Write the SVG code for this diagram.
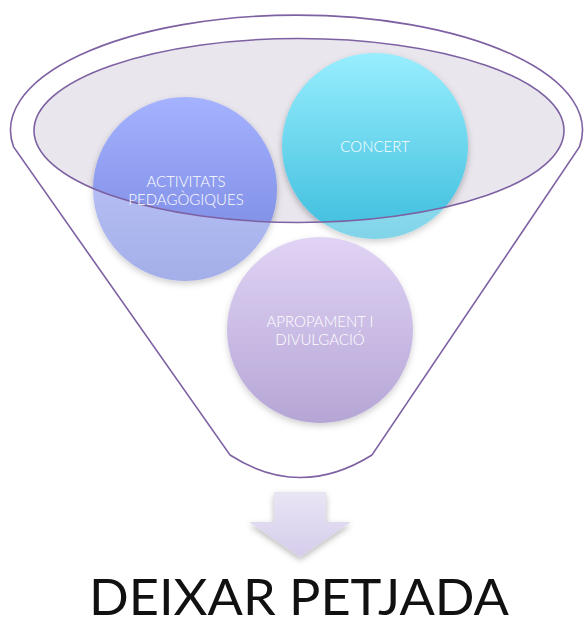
<svg xmlns="http://www.w3.org/2000/svg" width="584" height="626" viewBox="0 0 584 626">
<style>
.lbl{font-family:Lato,"Open Sans","DejaVu Sans",sans-serif;font-size:15px;font-weight:300;fill:#ffffff;text-anchor:middle}
.fun{fill:none;stroke:#7D61A2;stroke-width:1.6}
.big{font-family:Lato,"Open Sans","DejaVu Sans",sans-serif;font-size:51px;fill:#111111;text-anchor:middle}
</style>
<defs>
<linearGradient id="gA" x1="0" y1="0" x2="0" y2="1"><stop offset="0" stop-color="#A5B2FF"/><stop offset="1" stop-color="#7384DD"/></linearGradient>
<linearGradient id="gC" x1="0" y1="0" x2="0" y2="1"><stop offset="0" stop-color="#98EEFE"/><stop offset="1" stop-color="#3DBDDD"/></linearGradient>
<linearGradient id="gP" x1="0" y1="0" x2="0" y2="1"><stop offset="0" stop-color="#D0BCEF"/><stop offset="1" stop-color="#8E76C0"/></linearGradient>
<linearGradient id="gArr" x1="0" y1="0" x2="0" y2="1"><stop offset="0" stop-color="#E9E5F5"/><stop offset="1" stop-color="#D5CCEB"/></linearGradient>
<filter id="sh" x="-20%" y="-20%" width="140%" height="140%"><feDropShadow dx="0" dy="3" stdDeviation="3" flood-color="#000" flood-opacity="0.28"/></filter>
</defs>
<ellipse id="funnel-mouth" cx="299" cy="130.5" rx="265" ry="92" fill="#E9E6EE"/>
<g id="node-activitats" filter="url(#sh)"><circle cx="185" cy="189" r="92" fill="url(#gA)"/></g>
<g id="node-concert" filter="url(#sh)"><circle cx="375" cy="146" r="93" fill="url(#gC)"/></g>
<g id="node-apropament" filter="url(#sh)"><circle cx="320" cy="330" r="93" fill="url(#gP)"/></g>
<path fill="#ffffff" fill-opacity="0.35" fill-rule="evenodd" d="M13.6,147 A286,115 0 1 1 579.4,147 L372,455 Q300,500 230,455 Z M34,130.5 A265,92 0 1 0 564,130.5 A265,92 0 1 0 34,130.5 Z"/>
<g id="funnel">
<path class="fun" d="M13.6,147 A286,115 0 1 1 579.4,147 L372,455 Q300,500 230,455 Z"/>
<ellipse class="fun" cx="299" cy="130.5" rx="265" ry="92"/>
</g>
<g id="labels">
<text class="lbl" x="186" y="187">ACTIVITATS</text>
<text class="lbl" x="186" y="205">PEDAGÒGIQUES</text>
<text class="lbl" x="375" y="152">CONCERT</text>
<text class="lbl" x="320" y="327">APROPAMENT I</text>
<text class="lbl" x="320" y="345">DIVULGACIÓ</text>
</g>
<g id="connectors">
<path filter="url(#sh)" fill="url(#gArr)" d="M274,492 H326 V522 H351 L300,557 L249,522 H274 Z"/>
</g>
<g id="node-result"><text class="big" x="299" y="615" textLength="420" lengthAdjust="spacingAndGlyphs">DEIXAR PETJADA</text></g>
</svg>
